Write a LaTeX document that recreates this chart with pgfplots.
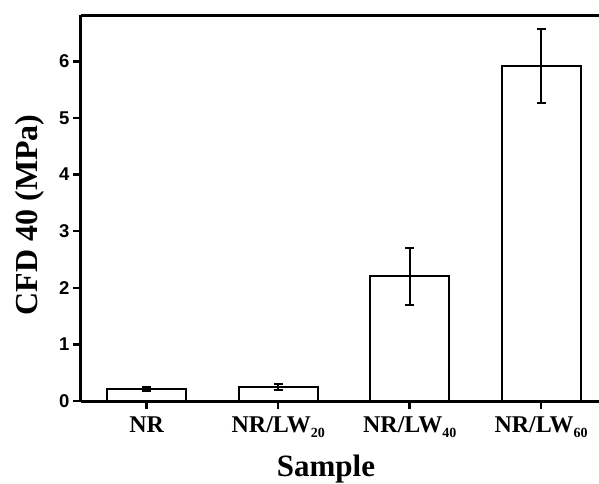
\documentclass[border=0pt]{standalone}
\usepackage{fontspec}
\setmainfont{Liberation Serif}
\newfontfamily\arialfont{Liberation Sans}
\usepackage{pgfplots}
\pgfplotsset{compat=1.18}

\newcommand{\sub}[1]{\raisebox{-5pt}{\fontsize{14}{14}\selectfont #1}}

\begin{document}
\begin{tikzpicture}
\path[use as bounding box] (-81pt,-82pt) rectangle (518pt,401pt);
\begin{axis}[
  width=518pt, height=386pt, scale only axis,
  xmin=-0.5, xmax=3.44, ymin=0, ymax=6.82,
  axis x line=box, axis y line*=left,
  axis line style={-, line width=3pt},
  every outer y axis line/.append style={-},
  xtick pos=bottom, ytick pos=left,
  tick align=outside, major tick length=8pt,
  tick style={black, line width=2.5pt},
  ytick={0,1,2,3,4,5,6},
  xtick={0,1,2,3},
  xticklabels={NR, NR/LW\sub{20}, NR/LW\sub{40}, NR/LW\sub{60}},
  /pgf/number format/assume math mode=true,
  yticklabel style={font=\arialfont\bfseries\fontsize{18.5}{18.5}\selectfont},
  xticklabel style={font=\bfseries\fontsize{24}{24}\selectfont, anchor=north, yshift=-4pt},
  ylabel={CFD 40 (MPa)},
  xlabel={Sample},
  ylabel style={font=\bfseries\fontsize{32}{32}\selectfont, at={(axis description cs:-0.0985,0.482)}, anchor=center},
  xlabel style={font=\bfseries\fontsize{31}{31}\selectfont, at={(axis description cs:0.473,-0.175)}, anchor=center},
]
\addplot[ybar, bar width=0.6, fill=white, draw=black, line width=2pt,
  error bars/.cd, y dir=both, y explicit,
  error bar style={line width=2pt, black},
  error mark options={rotate=90, black, mark size=4.5pt, line width=2pt}]
  coordinates {
    (0,0.21) +- (0,0.04)
    (1,0.25) +- (0,0.05)
    (2,2.20) +- (0,0.50)
    (3,5.92) +- (0,0.65)
  };
\end{axis}
\end{tikzpicture}
\end{document}
